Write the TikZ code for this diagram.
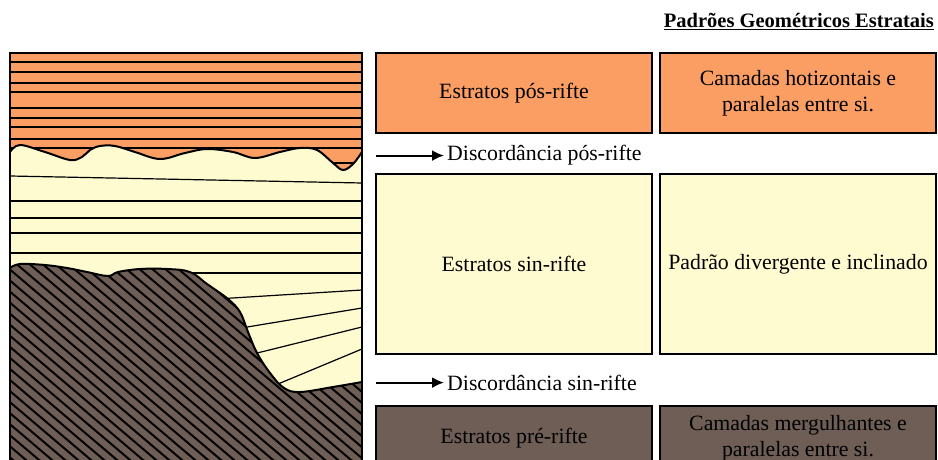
\documentclass[tikz,border=0pt]{standalone}
\usepackage{fontspec}
\setmainfont{Liberation Serif}
\usepackage{xcolor}
\usetikzlibrary{calc,positioning,arrows.meta}

\definecolor{posrift}{RGB}{250,158,100}
\definecolor{sinrift}{RGB}{254,251,208}
\definecolor{prerift}{RGB}{110,94,85}

\begin{document}
\begin{tikzpicture}[x=1pt,y=-1pt,
		caixa/.style={draw=black,line width=2pt,minimum width=276pt,inner sep=0pt,outer sep=0pt,align=center,font=\fontsize{21.8}{26}\selectfont},
		camada/.style={line width=1.2pt},
		estrato/.style={line width=2.2pt}]
	\useasboundingbox (0,0) rectangle (938,460);
	% contour of the unconformity and of the basement
	\def\discordancia{plot[smooth,tension=0.6] coordinates {(10,152) (20,145) (45,152) (70,160) (82,157) (90,150) (100,146) (115,146) (135,152) (160,159) (185,153) (207,149) (233,152) (255,158) (280,152) (300,148) (317,150) (333,163) (343,170) (353,164) (362,152)}}
	\def\embasamento{plot[smooth,tension=0.6] coordinates {(10,268) (20,264) (45,265) (67,268) (87,272) (108,276) (118,272) (140,269) (167,269) (190,272) (207,284) (228,299) (240,312) (248,332) (257,353) (270,373) (284,388) (300,392) (333,387) (362,382)}}
	
	% post-rift layers
	\fill[posrift] (10,53) rectangle (362,200);
	\foreach \y in {62,72,83,92,108,118,127,139,148,163}
		\draw[estrato] (10,\y) -- (362,\y);
	
	% syn-rift wedge
	\fill[sinrift] \discordancia -- (362,470) -- (10,470) -- cycle;
	\draw[camada] (10,176) -- (362,183);
	\foreach \y in {201,218,233,253}
		\draw[camada] (10,\y) -- (362,\y);
	\draw[camada] (185,273) -- (362,273);
	\draw[camada] (200,300) -- (362,290);
	\draw[camada] (220,331.5) -- (362,308);
	\draw[camada] (235,358.5) -- (362,327);
	\draw[camada] (260,391.5) -- (362,349);
	
	% pre-rift basement
	\fill[prerift] \embasamento -- (362,470) -- (10,470) -- cycle;
	\begin{scope}
		\clip \embasamento -- (362,470) -- (10,470) -- cycle;
		\foreach \x in {-260,-247,...,362}
			\draw[line width=2pt] (\x,250) -- ++(300,255);
	\end{scope}
	\draw[line width=2pt] \discordancia;
	\draw[line width=2pt] \embasamento;
	\draw[line width=2pt] (10,53) rectangle (362,470);
	
	% table
	\node[caixa,fill=posrift,minimum height=80pt] (posA) at (514,93) {Estratos pós-rifte};
	\node[caixa,fill=posrift,minimum height=80pt,right=8pt of posA] (posB) {Camadas hotizontais e\\paralelas entre si.};
	\node[caixa,fill=sinrift,minimum height=180pt,below=41pt of posA] (sinA) {Estratos sin-rifte};
	\node[caixa,fill=sinrift,minimum height=180pt,right=8pt of sinA] (sinB) {Padrão divergente e inclinado};
	\node[caixa,fill=prerift,minimum height=64pt,below=52pt of sinA] (preA) {Estratos pré-rifte};
	\node[caixa,fill=prerift,minimum height=64pt,right=8pt of preA] (preB) {Camadas mergulhantes e\\paralelas entre si.};
	\node[anchor=base east,inner sep=0pt,font=\fontsize{20.5}{24}\selectfont\bfseries] (titulo) at (934,28) {\underline{Padrões Geométricos Estratais}};
	
	% unconformities
	\coordinate (arrPos) at ($(posA.south west)!0.55!(sinA.north west)$);
	\coordinate (arrSin) at ($(sinA.south west)!0.55!(preA.north west)$);
	\node[right=68pt of arrPos,inner sep=3pt,font=\fontsize{21.8}{26}\selectfont] (discPos) {Discordância pós-rifte};
	\node[right=68pt of arrSin,inner sep=3pt,font=\fontsize{21.8}{26}\selectfont] (discSin) {Discordância sin-rifte};
	\draw[line width=2pt,-{Latex[length=12pt,width=11pt]}] (arrPos) -- (discPos);
	\draw[line width=2pt,-{Latex[length=12pt,width=11pt]}] (arrSin) -- (discSin);
\end{tikzpicture}
\end{document}
